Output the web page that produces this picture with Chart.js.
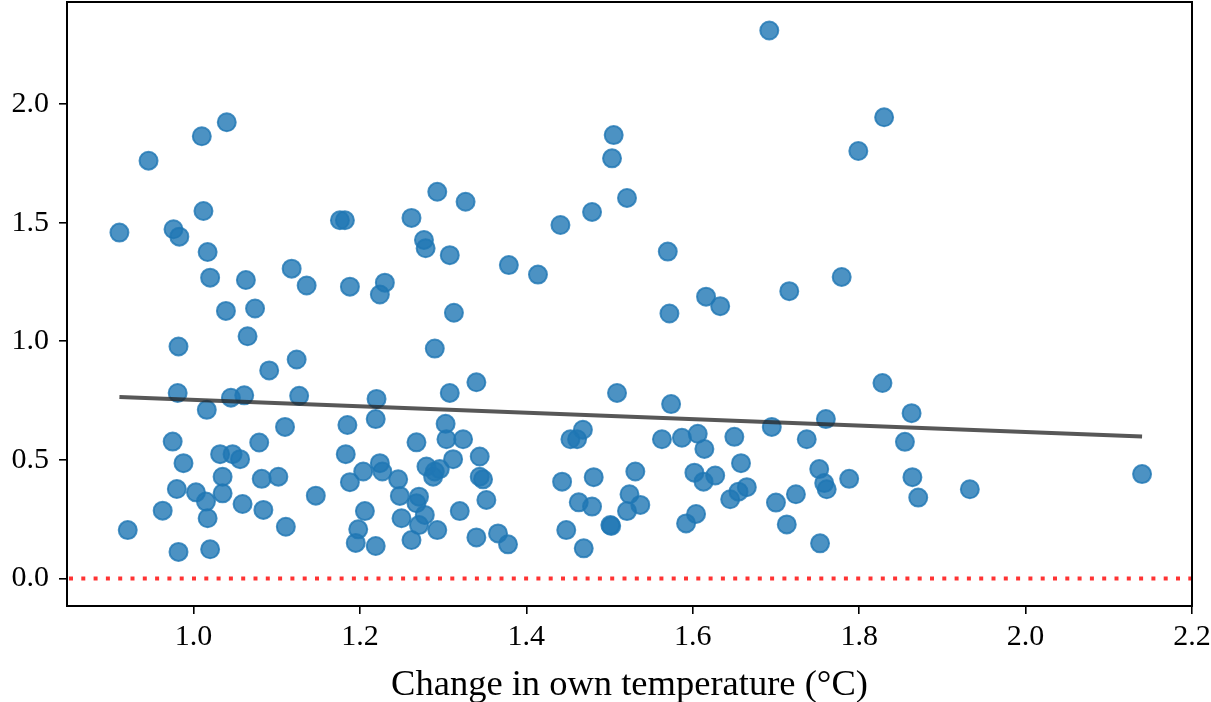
<!DOCTYPE html>
<html>
<head>
<meta charset="utf-8">
<script src="https://cdn.jsdelivr.net/npm/chart.js@4.4.1/dist/chart.umd.min.js"></script>
<style>
  body { margin: 0; background: #fff; }
  #wrap { width: 1211px; height: 702px; overflow: hidden; }
  #chart { display: block; margin-top: -9px; }
</style>
</head>
<body>
<div id="wrap"><canvas id="chart" width="1211" height="711"></canvas></div>
<script>
// change in own temperature (x) and the plotted response (y)
const ownTempChange = [
    0.911, 0.921, 0.946, 0.963, 0.976, 0.983, 0.982, 0.981, 0.975, 0.988,
    0.980, 0.982, 1.003, 1.010, 1.012, 1.017, 1.020, 1.016, 1.015, 1.017,
    1.020, 1.032, 1.035, 1.035, 1.040, 1.039, 1.045, 1.047, 1.056, 1.059,
    1.061, 1.063, 1.065, 1.074, 1.079, 1.082, 1.084, 1.091, 1.102, 1.110,
    1.111, 1.118, 1.124, 1.127, 1.136, 1.147, 1.176, 1.182, 1.185, 1.183,
    1.188, 1.188, 1.204, 1.206, 1.198, 1.195, 1.219, 1.220, 1.219, 1.224,
    1.230, 1.224, 1.227, 1.246, 1.248, 1.250, 1.262, 1.262, 1.268, 1.271,
    1.268, 1.278, 1.271, 1.277, 1.279, 1.280, 1.288, 1.290, 1.290, 1.296,
    1.293, 1.293, 1.303, 1.304, 1.308, 1.308, 1.313, 1.312, 1.320, 1.324,
    1.327, 1.340, 1.340, 1.344, 1.344, 1.348, 1.352, 1.366, 1.378, 1.379,
    1.414, 1.441, 1.443, 1.448, 1.453, 1.461, 1.468, 1.463, 1.469, 1.479,
    1.481, 1.479, 1.501, 1.502, 1.503, 1.505, 1.509, 1.521, 1.524, 1.521,
    1.531, 1.537, 1.563, 1.570, 1.572, 1.574, 1.587, 1.592, 1.602, 1.604,
    1.606, 1.613, 1.614, 1.616, 1.627, 1.633, 1.645, 1.650, 1.655, 1.658,
    1.665, 1.692, 1.695, 1.700, 1.713, 1.716, 1.724, 1.737, 1.752, 1.753,
    1.758, 1.761, 1.760, 1.779, 1.788, 1.799, 1.828, 1.830, 1.855, 1.863,
    1.864, 1.871, 1.933, 2.140
];
const response = [
    1.458, 0.204, 1.761, 0.286, 1.472, 1.441, 0.978, 0.782, 0.577, 0.486,
    0.377, 0.112, 0.363, 1.864, 1.549, 1.376, 1.268, 0.711, 0.324, 0.254,
    0.123, 0.524, 0.429, 0.359, 1.923, 1.128, 0.762, 0.524, 0.503, 0.314,
    0.772, 1.258, 1.021, 1.138, 0.573, 0.420, 0.289, 0.877, 0.429, 0.639,
    0.218, 1.306, 0.923, 0.770, 1.235, 0.349, 1.510, 1.510, 0.647, 0.524,
    1.230, 0.406, 0.451, 0.284, 0.207, 0.150, 0.137, 0.757, 0.672, 1.197,
    1.247, 0.486, 0.451, 0.418, 0.348, 0.254, 1.520, 0.162, 0.574, 0.345,
    0.317, 0.268, 0.225, 1.427, 1.392, 0.472, 0.429, 0.969, 0.451, 0.461,
    1.630, 0.204, 0.652, 0.587, 1.363, 0.782, 1.120, 0.503, 0.284, 0.587,
    1.588, 0.827, 0.173, 0.514, 0.429, 0.418, 0.331, 0.190, 0.144, 1.321,
    1.281, 1.490, 0.408, 0.204, 0.587, 0.587, 0.627, 0.321, 0.127, 1.545,
    0.427, 0.303, 0.225, 0.221, 1.771, 1.869, 0.782, 1.604, 0.355, 0.284,
    0.451, 0.310, 0.587, 1.378, 1.117, 0.735, 0.593, 0.232, 0.446, 0.272,
    0.610, 0.408, 0.546, 1.188, 0.434, 1.148, 0.334, 0.597, 0.366, 0.486,
    0.385, 2.310, 0.639, 0.320, 0.228, 1.211, 0.355, 0.587, 0.461, 0.148,
    0.402, 0.376, 0.672, 1.271, 0.420, 1.802, 0.824, 1.944, 0.576, 0.697,
    0.427, 0.341, 0.376, 0.440
];
// fitted line, value at the smallest and largest x
const trendEnds = [0.765, 0.598];

const xTicks = [1.0, 1.2, 1.4, 1.6, 1.8, 2.0, 2.2];
const yTicks = [0.0, 0.5, 1.0, 1.5, 2.0];
const xLimits = [0.848, 2.2];
const yLimits = [-0.116, 2.43];

const serif = "'Liberation Serif', 'DejaVu Serif', serif";

const points = ownTempChange.map((x, i) => ({ x: x, y: response[i] }));
const trendLine = [
    { x: Math.min(...ownTempChange), y: trendEnds[0] },
    { x: Math.max(...ownTempChange), y: trendEnds[1] }
];

// box round the plot and the dotted zero line
const frame = {
    id: 'frame',
    beforeDatasetsDraw(chart) {
        const { ctx, chartArea: a, scales } = chart;
        const y0 = scales.y.getPixelForValue(0);
        ctx.save();
        ctx.strokeStyle = 'rgba(255, 0, 0, 0.8)';
        ctx.lineWidth = 4;
        ctx.setLineDash([4, 8.3]);
        ctx.beginPath();
        ctx.moveTo(a.left + 2, y0);
        ctx.lineTo(a.right, y0);
        ctx.stroke();
        ctx.restore();
    },
    afterDraw(chart) {
        const { ctx, chartArea: a } = chart;
        ctx.save();
        ctx.strokeStyle = '#000';
        ctx.lineWidth = 2;
        ctx.strokeRect(a.left, a.top, a.right - a.left, a.bottom - a.top);
        ctx.restore();
    }
};

new Chart(document.getElementById('chart'), {
    type: 'scatter',
    data: {
        datasets: [
            {
                type: 'line',
                data: trendLine,
                borderColor: 'rgba(40, 40, 40, 0.78)',
                borderWidth: 4,
                pointRadius: 0,
                order: 0
            },
            {
                data: points,
                backgroundColor: 'rgba(31, 119, 180, 0.8)',
                borderColor: 'rgba(31, 119, 180, 0.8)',
                borderWidth: 2,
                pointRadius: 9,
                order: 1
            }
        ]
    },
    options: {
        responsive: false,
        animation: false,
        layout: { padding: { top: 0, right: 19, left: 0, bottom: 0 } },
        plugins: {
            legend: { display: false },
            tooltip: { enabled: false }
        },
        scales: {
            x: {
                type: 'linear',
                min: xLimits[0],
                max: xLimits[1],
                afterBuildTicks: axis => { axis.ticks = xTicks.map(v => ({ value: v })); },
                afterFit: scale => {
                    scale.height = 96;
                    scale.paddingLeft = 0;
                    scale.paddingRight = 0;
                },
                border: { display: false },
                grid: { drawOnChartArea: false, color: '#000', lineWidth: 1.6, tickLength: 8 },
                ticks: {
                    color: '#000',
                    font: { family: serif, size: 30 },
                    padding: 5,
                    maxRotation: 0,
                    autoSkip: false,
                    callback: v => v.toFixed(1)
                },
                title: {
                    display: true,
                    text: 'Change in own temperature (°C)',
                    color: '#000',
                    font: { family: serif, size: 36.5, lineHeight: 0.9 },
                    padding: { top: 9, bottom: 0 }
                }
            },
            y: {
                type: 'linear',
                min: yLimits[0],
                max: yLimits[1],
                afterBuildTicks: axis => { axis.ticks = yTicks.map(v => ({ value: v })); },
                afterFit: scale => {
                    scale.width = 67;
                    scale.paddingTop = 0;
                    scale.paddingBottom = 0;
                },
                border: { display: false },
                grid: { drawOnChartArea: false, color: '#000', lineWidth: 1.6, tickLength: 8 },
                ticks: {
                    color: '#000',
                    font: { family: serif, size: 30 },
                    padding: 10,
                    autoSkip: false,
                    callback: v => v.toFixed(1)
                }
            }
        }
    },
    plugins: [frame]
});
</script>
</body>
</html>
